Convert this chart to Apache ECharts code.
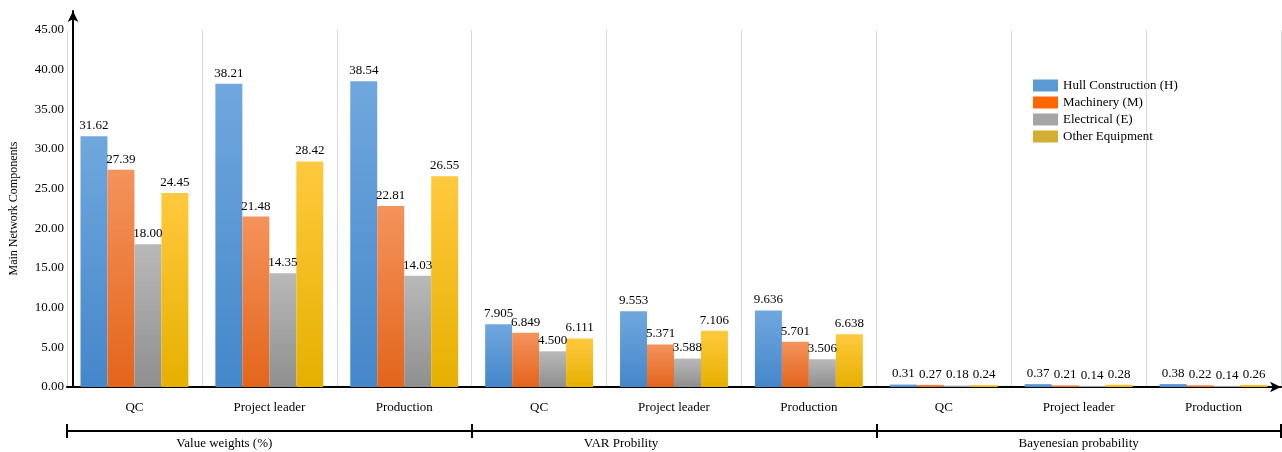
<!DOCTYPE html>
<html>
<head>
<meta charset="utf-8">
<script src="https://cdn.jsdelivr.net/npm/echarts@6.0.0/dist/echarts.min.js"></script>
<style>
  html, body { margin: 0; padding: 0; background: #fff; }
  #mainPlot { width: 1282px; height: 452px; }
</style>
</head>
<body>
<div id="mainPlot"></div>
<script>
// data
const categories = ["QC", "Project leader", "Production", "QC", "Project leader", "Production", "QC", "Project leader", "Production"];
const groups = ["Value weights (%)", "VAR Probility", "Bayenesian probability"];
const seriesNames = ["Hull Construction (H)", "Machinery (M)", "Electrical (E)", "Other Equipment"];
const hull = [31.62, 38.21, 38.54, 7.905, 9.553, 9.636, 0.31, 0.37, 0.38];
const machinery = [27.39, 21.48, 22.81, 6.849, 5.371, 5.701, 0.27, 0.21, 0.22];
const electrical = [18.0, 14.35, 14.03, 4.5, 3.588, 3.506, 0.18, 0.14, 0.14];
const other = [24.45, 28.42, 26.55, 6.111, 7.106, 6.638, 0.24, 0.28, 0.26];
const yTicks = { min: 0, max: 45, interval: 5 };

const font = "'Liberation Serif', 'Times New Roman', serif";

function grad(top, bottom) {
  return new echarts.graphic.LinearGradient(0, 0, 0, 1, [
    { offset: 0, color: top },
    { offset: 1, color: bottom },
  ]);
}

const fills = [
  grad("#70a7de", "#4487ca"),
  grad("#f4935c", "#e3651b"),
  grad("#b9b9b9", "#8f8f8f"),
  grad("#ffc93e", "#e6b000"),
];
const legendColors = ["#5b9bd5", "#ff6600", "#a5a5a5", "#d4ad33"];
const values = [hull, machinery, electrical, other];

// group labels sit a bit left of centre in the reference
const groupPad = [90, 106, 0];

const chart = echarts.init(document.getElementById("mainPlot"));

const option = {
  backgroundColor: "#fff",
  textStyle: { fontFamily: font },
  animation: false,
  legend: {
    orient: "vertical",
    left: 1028,
    top: 74,
    icon: "rect",
    itemWidth: 25,
    itemHeight: 12,
    itemGap: 4,
    textStyle: { fontFamily: font, fontSize: 13, color: "#000" },
    data: seriesNames.map((n, i) => ({ name: n, itemStyle: { color: legendColors[i] } })),
  },
  grid: [
    { left: 66, right: 1, top: 30, bottom: 65 },
    { left: 66, right: 1, top: 11, bottom: 65 },
  ],
  xAxis: [
    {
      type: "category",
      gridIndex: 0,
      data: categories,
      axisLine: {
        show: true,
        lineStyle: { color: "#000", width: 2 },
        symbol: ["none", "arrow"],
        symbolSize: [8, 11],
      },
      axisTick: { show: false },
      axisLabel: { color: "#000", fontFamily: font, fontSize: 13, margin: 14, interval: 0 },
      splitLine: { show: true, interval: 0, lineStyle: { color: "#d9d9d9", width: 1 } },
    },
    {
      type: "category",
      gridIndex: 0,
      data: groups.map((g, i) => ({ value: g, textStyle: { padding: [0, groupPad[i], 0, 0] } })),
      position: "bottom",
      offset: 44,
      axisLine: { show: true, lineStyle: { color: "#000", width: 2 } },
      axisTick: { show: true, length: 7, lineStyle: { color: "#000", width: 2 } },
      axisLabel: { color: "#000", fontFamily: font, fontSize: 13, margin: 6, interval: 0 },
      splitLine: { show: false },
    },
    {
      type: "category",
      gridIndex: 0,
      data: groups,
      position: "bottom",
      offset: 44,
      axisLine: { show: false },
      axisTick: { show: true, inside: true, length: 7, lineStyle: { color: "#000", width: 2 } },
      axisLabel: { show: false },
      splitLine: { show: false },
    },
    {
      type: "category",
      gridIndex: 1,
      data: groups,
      show: false,
    },
  ],
  yAxis: [
    {
      type: "value",
      gridIndex: 0,
      min: yTicks.min,
      max: yTicks.max,
      interval: yTicks.interval,
      offset: -7,
      name: "Main Network Components",
      nameLocation: "middle",
      nameGap: 54,
      nameTextStyle: { color: "#000", fontFamily: font, fontSize: 12 },
      axisLine: { show: false },
      axisTick: { show: false },
      splitLine: { show: false },
      axisLabel: {
        color: "#000",
        fontFamily: font,
        fontSize: 13,
        margin: 10,
        formatter: (v) => v.toFixed(2),
      },
    },
    {
      type: "value",
      gridIndex: 1,
      min: 0,
      max: 1,
      offset: -7,
      axisLine: {
        show: true,
        lineStyle: { color: "#000", width: 2 },
        symbol: ["none", "arrow"],
        symbolSize: [8, 11],
      },
      axisTick: { show: false },
      axisLabel: { show: false },
      splitLine: { show: false },
    },
  ],
  series: seriesNames.map((name, i) => ({
    name: name,
    type: "bar",
    xAxisIndex: 0,
    yAxisIndex: 0,
    data: values[i],
    barGap: "0%",
    barCategoryGap: "20%",
    itemStyle: { color: fills[i] },
    label: {
      show: true,
      position: "top",
      distance: 4,
      color: "#000",
      fontFamily: font,
      fontSize: 13,
      formatter: (p) => (p.dataIndex >= 3 && p.dataIndex <= 5 ? p.value.toFixed(3) : p.value.toFixed(2)),
    },
  })),
};

chart.setOption(option);
window.addEventListener("resize", () => {
  chart.resize();
});
</script>
</body>
</html>
